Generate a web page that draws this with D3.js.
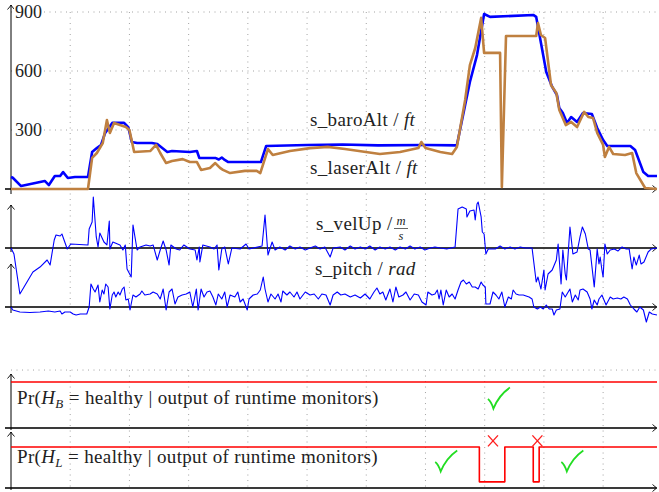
<!DOCTYPE html>
<html>
<head>
<meta charset="utf-8">
<script src="https://cdn.jsdelivr.net/npm/d3@7"></script>
<style>
  body { margin: 0; background: #fff; }
  text { font-family: "Liberation Serif", serif; fill: #222; }
</style>
</head>
<body>
<div id="chart"></div>
<script>
// altitude data [t, ft]
const baroAlt = [[0,61],[0.03,57],[0.17,15],[0.57,41],[0.64,20],[0.74,66],[0.83,66],[0.88,86],[0.96,56],[1.08,61],
  [1.30,61],[1.37,188],[1.45,208],[1.52,224],[1.59,285],[1.71,336],[1.91,336],[1.98,315],[2.04,239],[2.13,234],
  [2.38,234],[2.47,229],[2.64,188],[2.72,193],[3.02,188],[3.14,193],[3.18,158],[3.45,158],[3.51,150],[3.56,160],
  [3.61,148],[3.67,137],[4.22,137],[4.31,219],[5.0,224],[5.6,226],[6.2,222],[7.0,224],[7.53,222],[7.67,427],
  [7.75,544],[7.87,681],[7.99,890],[8.09,875],[8.82,885],[8.87,875],[9.04,595],[9.14,519],[9.22,478],[9.26,412],
  [9.32,386],[9.39,336],[9.46,366],[9.56,341],[9.66,386],[9.81,381],[9.90,310],[10.00,249],[10.07,219],[10.46,219],
  [10.54,198],[10.68,86],[10.76,66],[10.91,66]];

const laserAlt = [[0,0],[1.30,0],[1.37,158],[1.45,183],[1.55,234],[1.62,351],[1.67,285],[1.74,336],[1.84,325],[1.94,315],
  [2.00,300],[2.08,188],[2.35,193],[2.45,224],[2.52,183],[2.62,132],[2.72,142],[2.90,152],[3.02,137],[3.14,137],
  [3.21,97],[3.36,107],[3.45,132],[3.53,107],[3.58,97],[3.70,81],[3.95,92],[4.15,92],[4.21,81],[4.34,203],
  [4.42,173],[4.71,193],[5.05,208],[5.35,214],[5.64,203],[6.23,178],[6.57,188],[6.88,208],[6.93,239],[7.00,208],
  [7.25,188],[7.45,178],[7.53,214],[7.67,453],[7.75,630],[7.84,717],[7.94,870],[7.99,692],[8.26,692],[8.29,10],
  [8.36,778],[8.87,778],[8.90,844],[8.95,783],[9.02,768],[9.12,529],[9.21,488],[9.26,402],[9.37,325],[9.46,341],
  [9.56,315],[9.68,392],[9.75,366],[9.83,361],[9.90,285],[10.00,224],[10.03,163],[10.10,214],[10.17,178],[10.37,173],
  [10.49,183],[10.56,81],[10.71,5],[10.91,0]];

// vertical speed [t, m/s]
const velUp = [[0,0],[0.05,-0.75],[0.15,-5.75],[0.22,-4.88],[0.29,-4.0],[0.37,-3.0],[0.49,-2.38],[0.61,-1.5],[0.66,-2.13],[0.73,1.0],
  [0.76,1.63],[0.83,1.5],[0.86,1.75],[0.95,-0.13],[1.01,0.5],[1.30,0.38],[1.32,2.38],[1.37,3.25],[1.39,6.38],[1.44,1.38],
  [1.47,0.13],[1.50,1.88],[1.57,0.75],[1.62,0.38],[1.66,3.38],[1.67,-0.13],[1.72,0.75],[1.84,0.38],[1.89,-0.25],[1.93,0.38],
  [1.96,-2.63],[2.03,-3.63],[2.06,2.88],[2.13,-0.25],[2.18,0.13],[2.28,0.38],[2.35,0.25],[2.40,0.38],[2.47,-1.5],[2.52,-0.25],
  [2.57,0.88],[2.62,-0.25],[2.67,-2.13],[2.70,0.38],[2.79,-0.13],[2.85,-0.25],[2.92,0.38],[3.02,-0.13],[3.11,-0.25],[3.14,-1.5],
  [3.18,0.13],[3.19,-1.75],[3.24,0.38],[3.36,0.13],[3.43,-0.13],[3.48,0.38],[3.51,-2.75],[3.56,-0.13],[3.61,0.13],[3.67,-2.0],
  [3.73,0],[3.87,-0.13],[3.97,0.5],[4.02,-0.13],[4.24,0.25],[4.29,4.13],[4.34,-0.88],[4.41,0.75],[4.46,-0.25],[4.54,0.13],
  [4.63,-0.25],[4.71,0.25],[4.80,-0.13],[4.88,0.13],[4.97,-0.25],[5.05,0],[5.14,0.25],[5.22,-0.13],[5.30,0.13],[5.39,-1.13],
  [5.44,0],[5.56,0.13],[5.64,-0.25],[5.73,0.25],[5.81,-0.13],[5.90,0.13],[5.98,-0.13],[6.06,0.25],[6.15,-0.25],[6.23,0.13],
  [6.32,-0.13],[6.40,0.13],[6.49,-0.25],[6.57,0.13],[6.66,-0.13],[6.74,0.25],[6.82,-0.13],[6.91,0.13],[6.99,-0.25],[7.08,0],
  [7.16,0.13],[7.25,0],[7.36,-0.13],[7.50,0.13],[7.55,4.88],[7.62,5.13],[7.69,4.88],[7.70,3.88],[7.75,4.63],[7.82,4.75],
  [7.84,3.5],[7.87,5.5],[7.89,5.75],[7.94,3.88],[7.96,2.0],[7.99,1.75],[8.02,-0.75],[8.06,-0.13],[8.18,-0.13],[8.26,0.25],
  [8.34,-0.13],[8.43,0.13],[8.51,-0.13],[8.60,0.13],[8.68,0],[8.80,0],[8.87,-4.25],[8.90,-3.63],[8.95,-5.13],[9.00,-2.75],
  [9.02,-5.25],[9.07,-3.25],[9.14,-2.75],[9.21,-1.5],[9.24,0.5],[9.29,-4.5],[9.32,-0.25],[9.36,-3.25],[9.38,-4.0],[9.44,2.63],
  [9.49,-0.75],[9.56,-0.5],[9.61,1.38],[9.65,2.63],[9.70,1.75],[9.75,-0.13],[9.78,-0.25],[9.85,-4.88],[9.90,-0.13],[9.93,-2.0],
  [9.95,-1.13],[9.98,-2.75],[10.00,-3.63],[10.03,0.5],[10.07,-0.75],[10.12,-0.25],[10.19,-0.13],[10.25,-0.38],[10.32,0.13],[10.39,-0.13],
  [10.44,-0.13],[10.49,-2.63],[10.52,-1.13],[10.56,-2.13],[10.61,-0.88],[10.64,-2.0],[10.69,-1.75],[10.76,-0.5],[10.81,-0.13],[10.91,0]];

// pitch [t, rad]
const pitch = [[0,0],[0.03,-0.03],[0.15,-0.05],[0.32,-0.055],[0.49,-0.05],[0.63,-0.04],[0.74,-0.05],[0.83,-0.04],[0.86,-0.07],[0.91,-0.05],
  [1.00,-0.05],[1.05,-0.07],[1.10,-0.08],[1.17,-0.07],[1.28,-0.07],[1.32,0],[1.35,0.23],[1.39,0.18],[1.42,0.15],[1.47,0.22],
  [1.50,0.05],[1.54,0.17],[1.57,0.13],[1.60,0.23],[1.64,0.20],[1.67,-0.02],[1.71,0.12],[1.74,0.15],[1.77,0.10],[1.81,0.15],
  [1.84,0.12],[1.88,0.18],[1.91,0.20],[1.94,0.07],[1.98,0.08],[2.01,-0.03],[2.06,0.12],[2.11,0.10],[2.18,0.13],[2.21,0.16],
  [2.26,0.12],[2.35,0.13],[2.40,0.15],[2.47,0.13],[2.52,0.08],[2.57,0.18],[2.62,-0.03],[2.67,0.15],[2.72,0.18],[2.77,0.03],
  [2.82,0.10],[2.89,0.12],[2.96,0.13],[3.02,0.15],[3.07,0],[3.13,0.18],[3.16,-0.03],[3.21,0.18],[3.26,0.10],[3.31,0.15],
  [3.36,0.16],[3.41,0.10],[3.46,0.02],[3.50,0.13],[3.56,0.08],[3.61,0.15],[3.65,0],[3.70,0.12],[3.78,0.10],[3.83,0.15],
  [3.87,0.05],[3.92,0.08],[3.99,-0.03],[4.02,0.08],[4.09,0.12],[4.16,0.13],[4.21,0.17],[4.26,0.30],[4.29,0.18],[4.34,0.05],
  [4.39,0.13],[4.46,0.08],[4.51,0.13],[4.56,0.05],[4.59,0.16],[4.66,0.12],[4.71,0.15],[4.78,0.10],[4.83,0.15],[4.88,0.08],
  [4.97,0.15],[5.05,0.12],[5.12,0.13],[5.19,0.08],[5.25,0.13],[5.32,0.12],[5.39,0.02],[5.44,0.12],[5.51,0.15],[5.57,0.12],
  [5.64,0.13],[5.73,0.10],[5.81,0.12],[5.90,0.09],[5.98,0.13],[6.06,0.08],[6.13,0.15],[6.18,0.19],[6.23,0.13],[6.28,0.15],
  [6.33,0.07],[6.40,0.18],[6.45,0.05],[6.50,0.20],[6.55,0.10],[6.62,0.12],[6.67,0.15],[6.74,0.07],[6.81,0.13],[6.88,0.12],
  [6.94,0.05],[7.01,0.02],[7.04,0.15],[7.11,0.12],[7.16,0.13],[7.20,0.17],[7.23,0.08],[7.26,0.17],[7.30,0.02],[7.35,0.17],
  [7.40,0.10],[7.45,0.13],[7.50,0.08],[7.55,0.17],[7.60,0.25],[7.64,0.27],[7.69,0.23],[7.74,0.25],[7.79,0.20],[7.84,0.20],
  [7.89,0.18],[7.94,0.25],[7.97,0.22],[8.01,0.20],[8.02,0.03],[8.09,0.03],[8.14,0.15],[8.19,0.12],[8.24,0.08],[8.29,0.15],
  [8.34,0],[8.40,0.10],[8.45,0.08],[8.48,0.17],[8.53,0.13],[8.58,0.12],[8.65,0.12],[8.70,0.11],[8.75,0.10],[8.80,0.08],
  [8.83,0],[8.89,-0.02],[8.94,0],[8.99,-0.02],[9.04,0.02],[9.09,-0.02],[9.14,-0.02],[9.17,-0.08],[9.21,-0.03],[9.27,-0.02],
  [9.31,0.15],[9.36,0.10],[9.41,0.15],[9.44,0.18],[9.48,0.05],[9.53,0.12],[9.58,0.07],[9.61,0.17],[9.66,0.18],[9.73,0.15],
  [9.78,0.08],[9.81,-0.02],[9.85,0.07],[9.90,0.02],[9.93,0.08],[9.98,0.12],[10.05,0.02],[10.12,0.10],[10.17,0.08],[10.24,0.09],
  [10.30,0.08],[10.35,0.10],[10.41,0.08],[10.46,0.02],[10.52,-0.02],[10.57,-0.05],[10.62,0],[10.68,-0.03],[10.73,-0.15],[10.78,-0.05],
  [10.83,-0.07],[10.91,-0.08]];

// Pr(healthy) step values [t, p]
const prBaro = [[0,1],[10.91,1]];
const prLaser = [[0,1],[7.91,0.15],[8.34,1],[8.82,0.15],[8.92,1],[10.91,1]];

// annotations [t, p]
const checksBaro = [[8.24,0.65]];
const checksLaser = [[7.35,0.66],[9.48,0.66]];
const crossesLaser = [[8.14,1.15],[8.89,1.15]];

const altTicks = [300, 600, 900];
const gridT = [1,2,3,4,5,6,7,8,9,10];

const width = 659, height = 492;
const svg = d3.select("#chart").append("svg")
  .attr("width", width).attr("height", height);

const x = d3.scaleLinear().domain([0, 10.91]).range([11, 657]);
const yAlt = d3.scaleLinear().domain([0, 900]).range([189, 12]);
const yVel = d3.scaleLinear().domain([0, 5]).range([248, 208]);
const yPitch = d3.scaleLinear().domain([0, 0.3]).range([307, 277]);
const yB = d3.scaleLinear().domain([0, 1]).range([428, 382]);
const yL = d3.scaleLinear().domain([0, 1]).range([488, 447]);

// grid
const grid = svg.append("g").attr("stroke", "#999").attr("stroke-width", 0.9)
  .attr("stroke-dasharray", "1,4.5");
gridT.forEach(t => {
  grid.append("line").attr("x1", x(t)).attr("x2", x(t)).attr("y1", 12).attr("y2", 307);
  grid.append("line").attr("x1", x(t)).attr("x2", x(t)).attr("y1", yB(1.26)).attr("y2", 488);
});
altTicks.forEach(v => {
  grid.append("line").attr("x1", 11).attr("x2", 657).attr("y1", yAlt(v)).attr("y2", yAlt(v));
});
grid.append("line").attr("x1", 11).attr("x2", 657).attr("y1", yB(1.26)).attr("y2", yB(1.26));

// axes
function arrowHead(g, px, py, angle) {
  g.append("path")
    .attr("d", "M-4.5,-3.5 Q-1.5,-0.8 0,0 Q-1.5,0.8 -4.5,3.5")
    .attr("fill", "none").attr("stroke", "#000").attr("stroke-width", 0.9)
    .attr("transform", `translate(${px},${py}) rotate(${angle})`);
}
const axes = svg.append("g");
function hAxis(y) {
  axes.append("line").attr("x1", 5).attr("x2", 656).attr("y1", y).attr("y2", y)
    .attr("stroke", "#3a3a3a").attr("stroke-width", 1.8);
  arrowHead(axes, 657, y, 0);
}
function vAxis(y0, y1) {
  axes.append("line").attr("x1", 11).attr("x2", 11).attr("y1", y0).attr("y2", y1)
    .attr("stroke", "#000").attr("stroke-width", 1);
  arrowHead(axes, 11, y1, -90);
}
hAxis(yAlt(0)); vAxis(194, 5);
hAxis(yVel(0)); vAxis(252, 205);
hAxis(yPitch(0)); vAxis(313, 264);
hAxis(yB(0)); vAxis(430, 374);
hAxis(yL(0)); vAxis(490, 432);

// altitude tick labels
altTicks.forEach(v => {
  const t = svg.append("text").attr("x", 15).attr("y", yAlt(v) + 6)
    .attr("font-size", 18).text(v);
  const bb = t.node().getBBox();
  svg.insert("rect", "text").attr("x", bb.x - 1).attr("y", bb.y).attr("width", bb.width + 3)
    .attr("height", bb.height).attr("fill", "#fff");
});

// series
function drawLine(data, yScale, color, w, curve) {
  svg.append("path").datum(data)
    .attr("fill", "none").attr("stroke", color).attr("stroke-width", w)
    .attr("stroke-linejoin", "round")
    .attr("d", d3.line().x(d => x(d[0])).y(d => yScale(d[1])).curve(curve || d3.curveLinear));
}
drawLine(velUp, yVel, "#0000ff", 1.1);
drawLine(pitch, yPitch, "#0000ff", 1.1);
drawLine(baroAlt, yAlt, "#0000ff", 2.6);
drawLine(laserAlt, yAlt, "#bf8040", 2.6);
drawLine(prBaro, yB, "#ff0000", 1.6, d3.curveStepAfter);
drawLine(prLaser, yL, "#ff0000", 1.6, d3.curveStepAfter);

// labels
function label(px, py, parts) {
  const t = svg.append("text").attr("x", px).attr("y", py).attr("font-size", 19)
    .attr("letter-spacing", 0.35);
  parts.forEach(p => {
    const s = t.append("tspan").text(p[0]);
    if (p[1] === "i") s.attr("font-style", "italic");
    if (p[1] === "sub") s.attr("font-style", "italic").attr("font-size", 13).attr("dy", 4);
    if (p[1] === "up") s.attr("dy", -4);
  });
  return t;
}
label(310, 126, [["s_baroAlt / "], ["ft", "i"]]);
label(310, 174, [["s_laserAlt / "], ["ft", "i"]]);
label(316, 230, [["s_velUp / "]]);
label(315, 275, [["s_pitch / "], ["rad", "i"]]);
// m/s fraction
svg.append("text").attr("x", 401).attr("y", 225).attr("font-size", 12.5)
  .attr("font-style", "italic").attr("text-anchor", "middle").text("m");
svg.append("line").attr("x1", 394).attr("x2", 408).attr("y1", 228.5).attr("y2", 228.5)
  .attr("stroke", "#222").attr("stroke-width", 0.7);
svg.append("text").attr("x", 401).attr("y", 239.5).attr("font-size", 12.5)
  .attr("font-style", "italic").attr("text-anchor", "middle").text("s");

label(17, 404, [["Pr("], ["H", "i"], ["B", "sub"], [" = healthy | output of runtime monitors)", "up"]]);
label(17, 463, [["Pr("], ["H", "i"], ["L", "sub"], [" = healthy | output of runtime monitors)", "up"]]);

// check marks and crosses
function check(t, p, yScale) {
  svg.append("path")
    .attr("d", "M-11,1 Q-8,3 -5.5,10.5 Q0,-3 11,-10.5")
    .attr("fill", "none").attr("stroke", "#22dd22").attr("stroke-width", 1.8)
    .attr("transform", `translate(${x(t)},${yScale(p)})`);
}
function cross(t, p, yScale) {
  svg.append("path")
    .attr("d", "M-5,-5.5 L5,5.5 M5,-5.5 L-5,5.5")
    .attr("fill", "none").attr("stroke", "#ff2020").attr("stroke-width", 1.4)
    .attr("transform", `translate(${x(t)},${yScale(p)})`);
}
checksBaro.forEach(d => check(d[0], d[1], yB));
checksLaser.forEach(d => check(d[0], d[1], yL));
crossesLaser.forEach(d => cross(d[0], d[1], yL));
</script>
</body>
</html>
